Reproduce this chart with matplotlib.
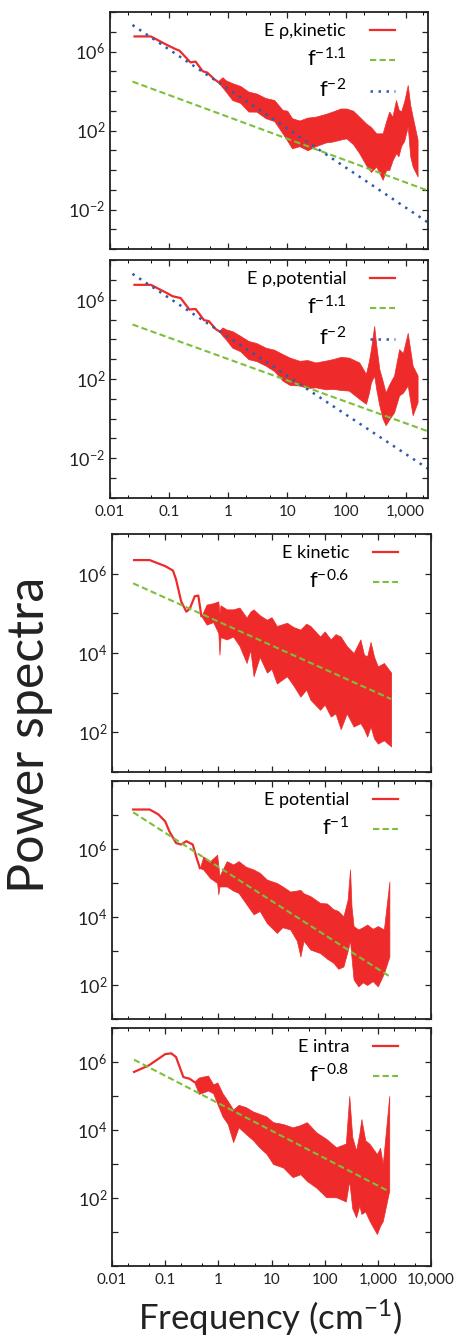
import math
import matplotlib; matplotlib.use("Agg")
import matplotlib.pyplot as plt
from matplotlib.ticker import FixedLocator, FixedFormatter, LogLocator, NullFormatter, NullLocator

plt.rcParams.update({"font.family": ["Lato", "DejaVu Sans"], "mathtext.fontset": "custom",
    "mathtext.rm": "Lato", "mathtext.it": "Lato:italic", "mathtext.bf": "Lato:bold",
    "xtick.direction": "in", "ytick.direction": "in", "xtick.top": True, "ytick.right": True,
    "axes.linewidth": 1.3, "axes.edgecolor": "#222222"})

RED, GREEN, BLUE = "#ee2a2a", "#7cbf3a", "#2a5db0"

# ---- panel 1: E rho,kinetic ----
smooth_f1 = [0.026, 0.049, 0.088, 0.13, 0.15, 0.23, 0.28, 0.37, 0.44, 0.58, 0.66]
smooth_p1 = [5.8e6, 5.8e6, 2.3e6, 1.3e6, 1.1e6, 2.8e5, 3.1e5, 1.0e5, 8.6e4, 4.0e4, 3.0e4]
noise_f1 = [0.66, 0.8, 0.91, 1.17, 1.6, 2.2, 3.0, 4.3, 6, 8.3, 10, 12, 16, 22, 30, 45, 58, 80, 100,
            130, 165, 214, 260, 320, 410, 470, 530, 600, 690, 760, 840, 950, 1090, 1200, 1320, 1600]
hi1 = [3.0e4, 5.0e4, 3.5e4, 2.5e4, 1.8e4, 9.3e3, 7.5e3, 4.4e3, 3.5e3, 1.1e3, 1.0e3, 4.2e2, 3.2e2, 4.5e2,
       5.0e2, 7.0e2, 9.1e2, 1.3e3, 1.3e3, 1.0e3, 5.0e2, 2.3e2, 1.5e2, 72, 72, 3.0e2, 9.1e2, 5.0e2,
       3.5e3, 1.2e3, 9.1e2, 3.0e3, 2.0e4, 2.0e3, 5.0e2, 34]
lo1 = [3.0e4, 1.5e4, 9.3e3, 3.5e3, 2.5e3, 9.1e2, 9.0e2, 4.2e2, 3.0e2, 72, 30, 12.6, 16, 10, 16, 25,
       27.5, 35, 40, 20, 7.1, 1.8, 0.8, 1.5, 0.32, 1.0, 1.0, 3.0, 7.1, 5.0, 16, 30, 160, 5.0, 1.5, 0.47]
green1_f, green1_p = [0.024, 2400], [3.0e4, 0.09]
blue1_f, blue1_p = [0.024, 2400], [2.2e7, 2.2e-3]

# ---- panel 2: E rho,potential ----
smooth_f2 = [0.026, 0.049, 0.088, 0.114, 0.157, 0.22, 0.28, 0.39, 0.47, 0.62, 0.70]
smooth_p2 = [5.6e6, 5.6e6, 2.3e6, 1.5e6, 1.2e6, 3.2e5, 3.4e5, 9.3e4, 8.3e4, 3.2e4, 2.6e4]
noise_f2 = [0.70, 0.8, 0.91, 1.17, 1.6, 2.2, 3.0, 4.3, 6, 8.3, 11, 16, 22, 30, 45, 58, 80, 110, 165,
            214, 240, 260, 295, 320, 360, 410, 460, 540, 640, 780, 900, 1090, 1200, 1320, 1600]
hi2 = [2.6e4, 4.0e4, 3.2e4, 2.6e4, 1.5e4, 8.3e3, 6.5e3, 3.8e3, 3.0e3, 1.8e3, 1.2e3, 8.3e2, 9.0e2, 6.8e2,
       8.5e2, 1.0e3, 1.3e3, 1.2e3, 6.8e2, 1.8e2, 8.0e2, 3.2e3, 4.7e4, 5.0e3, 3.2e2, 80, 21, 60, 1.5e2,
       3.2e3, 2.0e3, 2.1e4, 3.0e3, 4.7e2, 1.5e2]
lo2 = [2.6e4, 1.5e4, 1.0e4, 3.8e3, 2.5e3, 1.0e3, 8.0e2, 4.7e2, 2.5e2, 83, 50, 47, 35, 38, 30, 32, 28,
       26, 10, 5.6, 20, 68, 1.5e2, 30, 4.7, 1.0, 0.47, 1.0, 2.1, 15, 20, 47, 8.0, 1.5, 6.8]
green2_f, green2_p = [0.024, 2400], [5.6e4, 0.23]
blue2_f, blue2_p = [0.024, 2400], [2.0e7, 3.0e-3]

# ---- panel 3: E kinetic ----
smooth_f3 = [0.026, 0.051, 0.1, 0.14, 0.16, 0.2, 0.25, 0.29, 0.36, 0.42, 0.48]
smooth_p3 = [2.2e6, 2.2e6, 1.55e6, 1.2e6, 7.2e5, 2.0e5, 1.1e5, 1.3e5, 2.7e5, 2.8e5, 8.5e4]
noise_f3 = [0.48, 0.6, 0.8, 1.0, 1.05, 1.1, 1.44, 1.9, 2.5, 3.4, 4.0, 4.6, 6, 8.2, 10, 12.6, 19.5, 26,
            35, 45, 54, 82, 100, 130, 160, 200, 260, 350, 470, 550, 630, 730, 850, 1000, 1300, 1780]
hi3 = [8.5e4, 1.66e5, 1.8e5, 2.0e5, 1.0e5, 1.6e5, 1.26e5, 1.26e5, 1.4e5, 7.8e4, 1.1e5, 1.26e5, 9.0e4,
       6.9e4, 8.0e4, 4.8e4, 5.8e4, 4.5e4, 3.9e4, 5.5e4, 4.8e4, 2.6e4, 3.5e4, 2.2e4, 3.0e4, 2.6e4,
       1.5e4, 1.0e4, 2.2e4, 9.0e3, 8.3e3, 1.9e4, 8.0e3, 4.6e3, 5.6e3, 3.2e3]
lo3 = [8.5e4, 5.2e4, 6.0e4, 3.2e4, 9.1e3, 2.5e4, 2.2e4, 2.6e4, 1.5e4, 5.6e3, 1.2e4, 2.6e3, 8.0e3,
       3.2e3, 4.0e3, 1.7e3, 2.6e3, 1.5e3, 7.9e2, 1.2e3, 6.6e2, 3.7e2, 5.0e2, 2.5e2, 3.0e2, 1.2e2,
       3.0e2, 1.4e2, 1.7e2, 1.2e2, 78, 1.4e2, 70, 52, 63, 44]
green3_f, green3_p = [0.025, 1780], [5.7e5, 690]

# ---- panel 4: E potential ----
smooth_f4 = [0.025, 0.051, 0.074, 0.1, 0.12, 0.16, 0.2, 0.25, 0.33, 0.39, 0.45]
smooth_p4 = [1.45e7, 1.45e7, 1.05e7, 6.5e6, 3.3e6, 1.5e6, 1.35e6, 1.7e6, 1.35e6, 5.5e5, 2.75e5]
noise_f4 = [0.45, 0.52, 0.7, 0.95, 1.0, 1.05, 1.44, 1.9, 2.4, 3.3, 4.6, 6, 8.2, 12.6, 16, 22.5, 30,
            35, 40, 54, 82, 110, 146, 180, 225, 270, 300, 320, 350, 430, 520, 630, 800, 1000, 1300, 1650]
hi4 = [2.75e5, 6.0e5, 4.4e5, 6.8e5, 3.2e5, 1.6e5, 4.4e5, 3.5e5, 4.4e5, 3.0e5, 2.5e5, 2.0e5, 1.26e5,
       1.0e5, 8.0e4, 5.6e4, 6.0e4, 6.3e4, 5.0e4, 4.1e4, 2.6e4, 2.5e4, 1.7e4, 1.5e4, 1.05e4, 3.2e4,
       2.5e5, 2.0e4, 5.4e3, 4.3e3, 5.0e3, 6.0e3, 4.5e3, 5.4e3, 4.3e3, 1.1e5]
lo4 = [2.75e5, 2.5e5, 1.4e5, 1.0e5, 4.6e4, 7.9e4, 7.9e4, 6.0e4, 5.1e4, 2.5e4, 1.2e4, 1.5e4, 6.6e3,
       3.4e3, 5.0e3, 4.3e3, 2.0e3, 6.9e2, 2.0e3, 1.1e3, 8.7e2, 6.0e2, 4.5e2, 3.0e2, 3.5e2, 1.0e3,
       2.1e3, 6.3e2, 1.45e2, 91, 1.2e2, 1.0e2, 1.3e2, 91, 2.2e2, 6.9e2]
green4_f, green4_p = [0.025, 1650], [1.2e7, 180]

# ---- panel 5: E intra ----
smooth_f5 = [0.026, 0.049, 0.1, 0.13, 0.16, 0.22, 0.29, 0.35]
smooth_p5 = [5.1e5, 7.9e5, 1.7e6, 1.8e6, 1.4e6, 3.6e5, 3.2e5, 2.6e5]
noise_f5 = [0.35, 0.43, 0.64, 0.8, 0.96, 1.2, 1.5, 1.9, 2.4, 3.3, 4.5, 5.9, 8, 10.7, 16.5, 25, 35, 46,
            70, 107, 165, 250, 290, 330, 390, 450, 490, 580, 700, 960, 1100, 1240, 1640]
hi5 = [2.6e5, 3.5e5, 4.0e5, 2.2e5, 2.5e5, 1.2e5, 7.2e4, 4.0e4, 5.5e4, 4.7e4, 3.5e4, 3.0e4, 2.5e4,
       1.7e4, 1.5e4, 1.2e4, 1.4e4, 1.7e4, 8.5e3, 5.5e3, 3.1e3, 4.0e3, 1.0e5, 6.3e3, 2.5e3, 8.0e3,
       2.1e4, 5.0e3, 3.9e3, 1.95e3, 3.0e3, 1.0e3, 1.0e5]
lo5 = [2.6e5, 1.15e5, 1.45e5, 1.2e5, 5.8e4, 2.5e4, 1.5e4, 4.4e3, 1.2e4, 7.6e3, 5.0e3, 3.1e3, 2.0e3,
       1.0e3, 7.9e2, 4.1e2, 5.0e2, 3.2e2, 2.0e2, 1.05e2, 1.05e2, 79, 3.2e2, 50, 27, 60, 34, 40, 21,
       8.7, 15, 21, 1.66e2]
green5_f, green5_p = [0.026, 1640], [1.17e6, 155]

xt_top = [0.01, 0.1, 1, 10, 100, 1000]
xt_bot = [0.01, 0.1, 1, 10, 100, 1000, 10000]
xl_top = ["0.01", "0.1", "1", "10", "100", "1,000"]
xl_bot = ["0.01", "0.1", "1", "10", "100", "1,000", "10,000"]

fig = plt.figure(figsize=(4.61, 13.39), dpi=100)
W, H = 461.0, 1339.0
def box(l, t, r, b):
    return [l / W, 1 - b / H, (r - l) / W, (b - t) / H]

panels = [
    dict(rect=box(110, 12, 428, 249), xlim=(0.01, 2400), ylim=(1e-4, 1e8), yl=[-2, 2, 6],
         sf=smooth_f1, sp=smooth_p1, nf=noise_f1, hi=hi1, lo=lo1,
         fits=[(green1_f, green1_p, GREEN, "--", r"$\mathrm{f}^{-1.1}$"), (blue1_f, blue1_p, BLUE, ":", r"$\mathrm{f}^{-2}$")],
         lab="E ρ,kinetic", xt=xt_top, xl=None),
    dict(rect=box(110, 260, 428, 498), xlim=(0.01, 2400), ylim=(1e-4, 1e8), yl=[-2, 2, 6],
         sf=smooth_f2, sp=smooth_p2, nf=noise_f2, hi=hi2, lo=lo2,
         fits=[(green2_f, green2_p, GREEN, "--", r"$\mathrm{f}^{-1.1}$"), (blue2_f, blue2_p, BLUE, ":", r"$\mathrm{f}^{-2}$")],
         lab="E ρ,potential", xt=xt_top, xl=xl_top),
    dict(rect=box(112, 534, 431, 772), xlim=(0.01, 10000), ylim=(10, 1e7), yl=[2, 4, 6],
         sf=smooth_f3, sp=smooth_p3, nf=noise_f3, hi=hi3, lo=lo3,
         fits=[(green3_f, green3_p, GREEN, "--", r"$\mathrm{f}^{-0.6}$")],
         lab="E kinetic", xt=xt_bot, xl=None),
    dict(rect=box(112, 781, 431, 1019), xlim=(0.01, 10000), ylim=(10, 1e8), yl=[2, 4, 6],
         sf=smooth_f4, sp=smooth_p4, nf=noise_f4, hi=hi4, lo=lo4,
         fits=[(green4_f, green4_p, GREEN, "--", r"$\mathrm{f}^{-1}$")],
         lab="E potential", xt=xt_bot, xl=None),
    dict(rect=box(112, 1028, 431, 1266), xlim=(0.01, 10000), ylim=(1, 1e7), yl=[2, 4, 6],
         sf=smooth_f5, sp=smooth_p5, nf=noise_f5, hi=hi5, lo=lo5,
         fits=[(green5_f, green5_p, GREEN, "--", r"$\mathrm{f}^{-0.8}$")],
         lab="E intra", xt=xt_bot, xl=xl_bot),
]

for p in panels:
    ax = fig.add_axes(p["rect"])
    ax.set_xscale("log"); ax.set_yscale("log")
    red, = ax.plot(p["sf"], p["sp"], color=RED, lw=1.6, label=p["lab"])
    ax.fill_between(p["nf"], p["lo"], p["hi"], color=RED, lw=0.5, edgecolor=RED)
    handles = [red]
    for ff, fp, c, ls, lab in p["fits"]:
        if ls == ":":
            h, = ax.plot(ff, fp, color=c, lw=1.8, ls=(0, (1, 2.2)), label=lab)
        else:
            h, = ax.plot(ff, fp, color=c, lw=1.5, ls=(0, (3, 1.6)), label=lab)
        handles.append(h)
    ax.set_xlim(*p["xlim"]); ax.set_ylim(*p["ylim"])
    ax.xaxis.set_major_locator(FixedLocator(p["xt"]))
    ax.xaxis.set_minor_locator(LogLocator(base=10, subs=(2, 5)))
    ax.xaxis.set_minor_formatter(NullFormatter())
    if p["xl"] is None:
        ax.xaxis.set_major_formatter(NullFormatter())
    else:
        ax.xaxis.set_major_formatter(FixedFormatter(p["xl"]))
    lo_e = int(round(math.log10(p["ylim"][0])))
    hi_e = int(round(math.log10(p["ylim"][1])))
    ax.yaxis.set_major_locator(FixedLocator([10.0 ** e for e in range(lo_e, hi_e + 1)]))
    ax.yaxis.set_minor_locator(NullLocator())
    ax.yaxis.set_major_formatter(FixedFormatter(
        [r"$10^{%d}$" % e if e in p["yl"] else "" for e in range(lo_e, hi_e + 1)]))
    ax.tick_params(which="major", length=4, width=0.9, labelsize=13, colors="#222222")
    ax.tick_params(which="minor", length=2, width=0.7)
    ax.tick_params(axis="x", labelsize=11, pad=5)
    leg = ax.legend(handles=handles, loc="upper right", bbox_to_anchor=(0.93, 1.0),
                    frameon=False, markerfirst=False, handlelength=1.4, labelspacing=0.45,
                    handletextpad=1.3, borderaxespad=0.2, fontsize=13)
    for i, t in enumerate(leg.get_texts()):
        t.set_fontsize(13 if i == 0 else 16)

fig.text(0.065, 0.451, "Power spectra", rotation=90, fontsize=36, ha="center", va="center", color="#222222")
fig.text(0.585, 0.001, r"Frequency (cm$^{-1}$)", fontsize=25, ha="center", va="bottom", color="#222222")

fig.savefig("out.png", dpi=100)
